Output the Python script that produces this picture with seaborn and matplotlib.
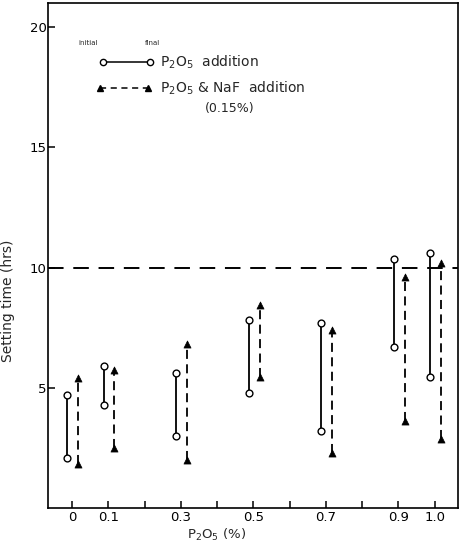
import matplotlib
matplotlib.use("Agg")
import matplotlib.pyplot as plt
import seaborn as sns
import pandas as pd

# P2O5 content (%) and setting times (hrs)
conc = [0, 0.1, 0.3, 0.5, 0.7, 0.9, 1.0]
p2o5_initial = [2.1, 4.3, 3.0, 4.8, 3.2, 6.7, 5.45]
p2o5_final = [4.7, 5.9, 5.6, 7.8, 7.7, 10.35, 10.6]
naf_initial = [1.85, 2.5, 2.0, 5.45, 2.3, 3.6, 2.85]
naf_final = [5.4, 5.75, 6.8, 8.45, 7.4, 9.6, 10.2]

x_ticks = [0, 0.1, 0.2, 0.3, 0.4, 0.5, 0.6, 0.7, 0.8, 0.9, 1.0]
x_ticklabels = ["0", "0.1", "", "0.3", "", "0.5", "", "0.7", "", "0.9", "1.0"]
y_ticks = [5, 10, 15, 20]

sns.set_style("ticks")
plt.rcParams["font.family"] = ["DejaVu Sans"]

fig = plt.figure(figsize=(4.64, 5.49), dpi=100)
ax = fig.add_axes([48 / 464, 1 - 508 / 549, 410 / 464, 505 / 549])


def long_form(xs, lo, hi, shift):
    rows = []
    for c, a, b in zip(xs, lo, hi):
        rows.append({"group": c, "x": c + shift, "time": a})
        rows.append({"group": c, "x": c + shift, "time": b})
    return pd.DataFrame(rows)


df_p = long_form(conc, p2o5_initial, p2o5_final, -0.013)
df_n = long_form(conc, naf_initial, naf_final, 0.017)

# vertical ranges initial -> final
sns.lineplot(data=df_p, x="x", y="time", units="group", estimator=None,
             orient="y", sort=False, color="black", lw=1.3, ax=ax)
sns.lineplot(data=df_n, x="x", y="time", units="group", estimator=None,
             orient="y", sort=False, color="black", lw=1.3, ax=ax,
             dashes=False)
for line in ax.lines[len(conc):]:
    line.set_linestyle((0, (5, 3)))

sns.scatterplot(data=df_p, x="x", y="time", marker="o", s=24,
                facecolor="white", edgecolor="black", linewidth=1.0,
                zorder=3, ax=ax)
sns.scatterplot(data=df_n, x="x", y="time", marker="^", s=26,
                color="black", edgecolor="black", linewidth=0.5,
                zorder=3, ax=ax)

# reference level at 10 hrs
ax.axhline(10, color="black", lw=1.4, ls=(0, (8, 5)), zorder=1)

ax.set_xlim(-0.066, 1.064)
ax.set_ylim(0, 21)
ax.set_xticks(x_ticks)
ax.set_xticklabels(x_ticklabels)
ax.set_yticks(y_ticks)
ax.tick_params(direction="in", length=5, width=1.1, labelsize=9.5,
               colors="black")
ax.tick_params(axis="x", pad=2)
ax.tick_params(axis="y", pad=1)
for sp in ax.spines.values():
    sp.set_visible(True)
    sp.set_linewidth(1.2)
    sp.set_color("black")

ax.set_xlabel("P$_2$O$_5$ (%)", fontsize=9.5)
ax.set_ylabel("Setting time (hrs)", fontsize=10)
ax.xaxis.set_label_coords(0.41, -0.037)
ax.yaxis.set_label_coords(-0.08, 0.41)

# hand-drawn style key
tr = ax.transAxes
ax.text(0.098, 0.921, "initial", transform=tr, fontsize=5, ha="center", va="center")
ax.text(0.254, 0.921, "final", transform=tr, fontsize=5, ha="center", va="center")
ax.plot([0.134, 0.249], [0.883, 0.883], transform=tr, color="black", lw=1.1,
        marker="o", markersize=4.5, markerfacecolor="white", markeredgecolor="black")
ax.plot([0.127, 0.244], [0.832, 0.832], transform=tr, color="black", lw=1.1,
        ls=(0, (4, 3)), marker="^", markersize=4.5)
ax.text(0.273, 0.883, "P$_2$O$_5$  addition", transform=tr, fontsize=10,
        ha="left", va="center")
ax.text(0.273, 0.832, "P$_2$O$_5$ & NaF  addition", transform=tr, fontsize=10,
        ha="left", va="center")
ax.text(0.444, 0.792, "(0.15%)", transform=tr, fontsize=9, ha="center", va="center")

if ax.get_legend() is not None:
    ax.get_legend().remove()

fig.savefig("out.png", dpi=100)
